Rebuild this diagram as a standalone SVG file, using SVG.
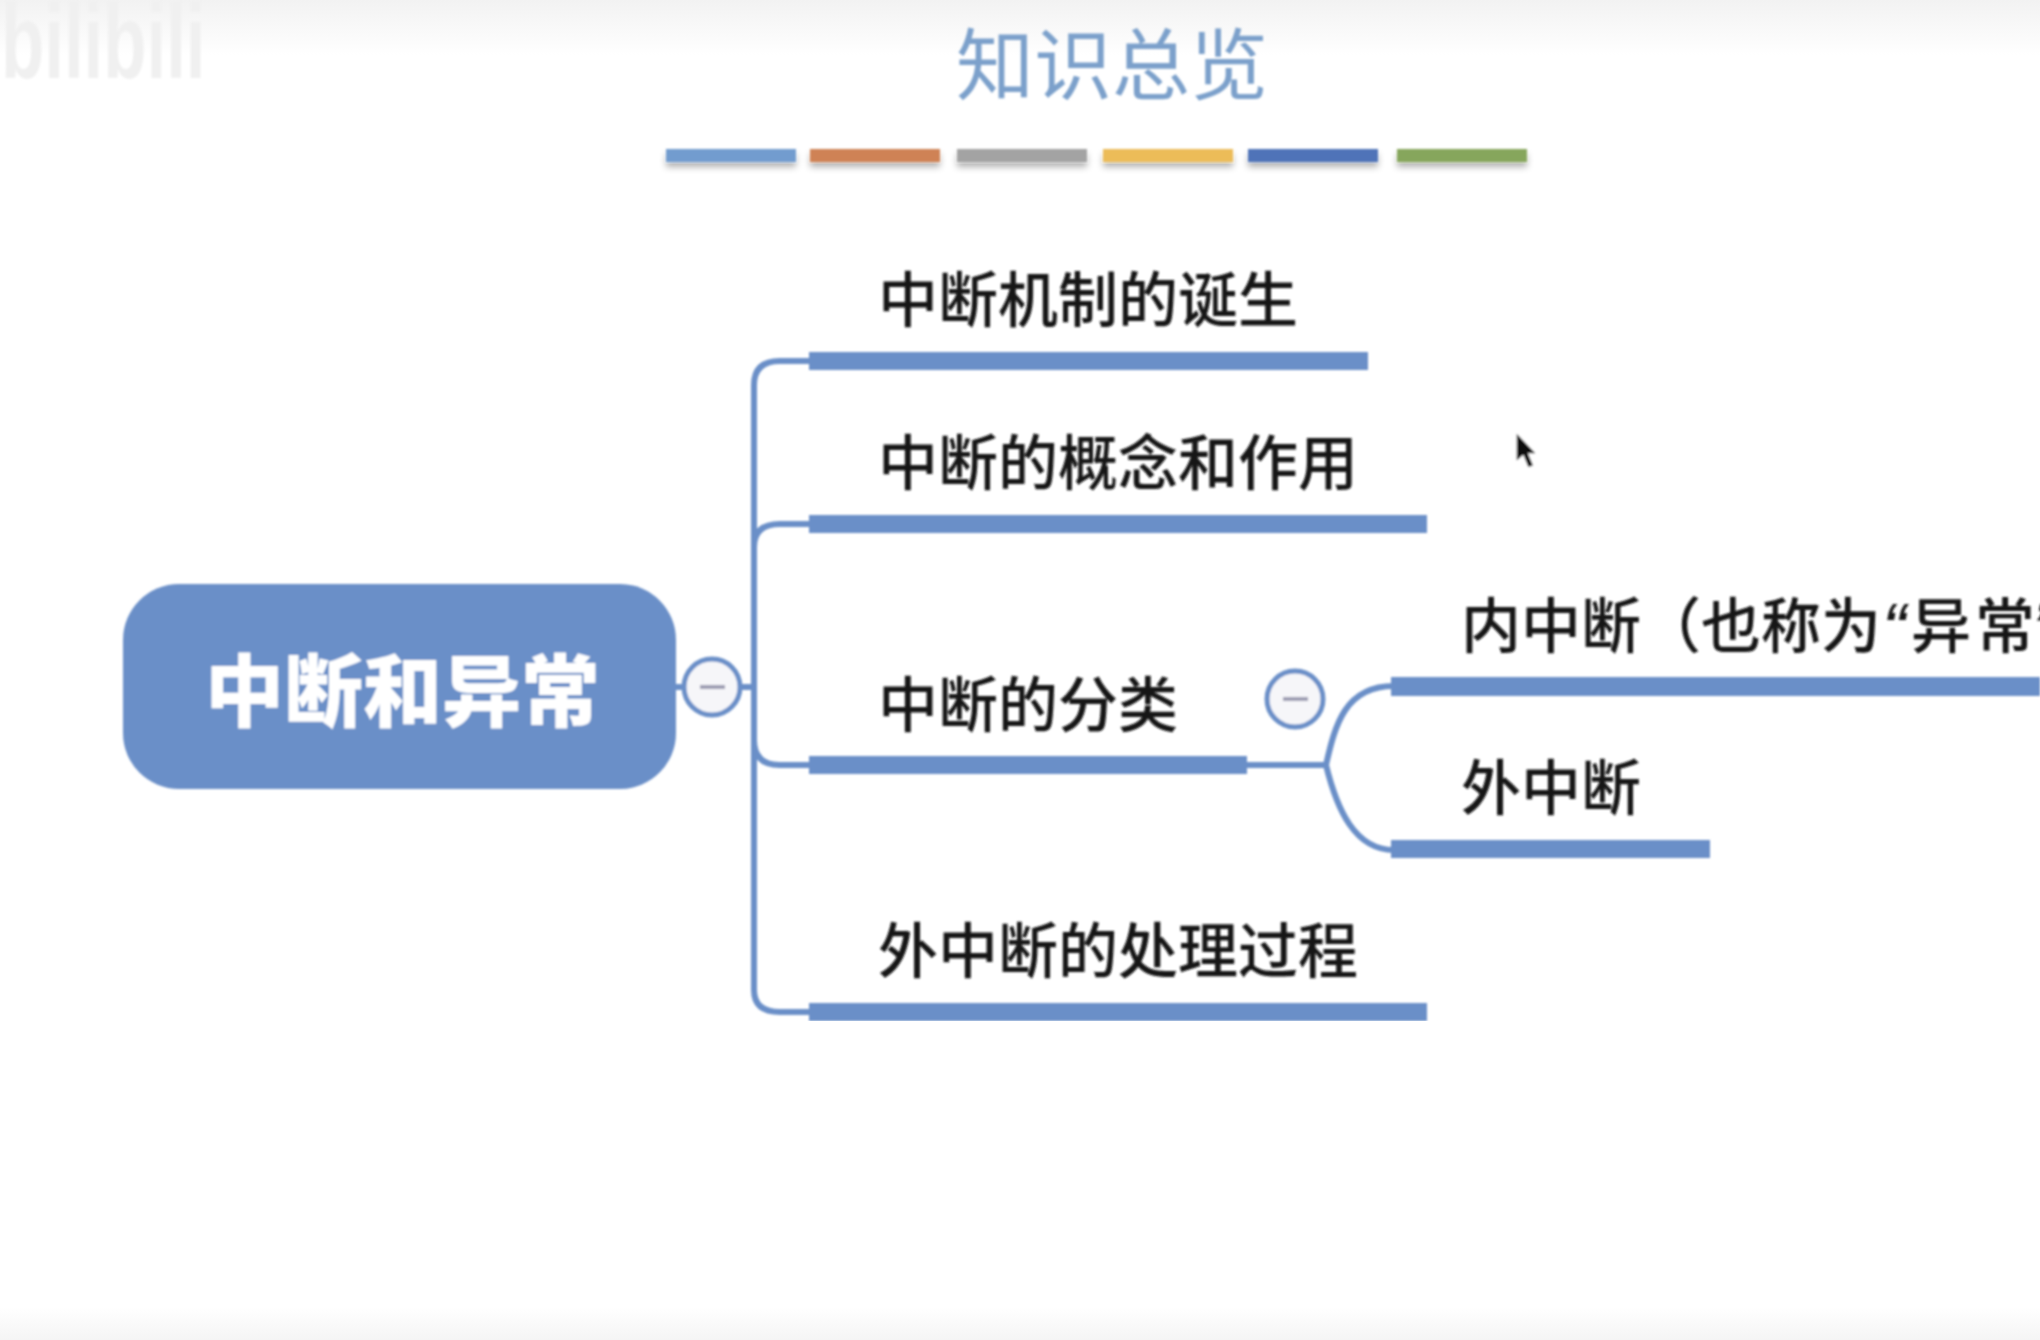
<svg xmlns="http://www.w3.org/2000/svg" width="2040" height="1340" viewBox="0 0 2040 1340">
<style>
.t{font-family:"Noto Sans CJK SC","Liberation Sans",sans-serif;font-size:60px;font-weight:500;fill:#141414}
.q{font-family:"Liberation Sans",sans-serif;font-style:italic;font-size:72px}
.bar{fill:#6a8fc8}
.c{fill:none;stroke:#6a8fc8;stroke-width:6}
.btn{fill:#f6f6f9;stroke:#6a8fc8;stroke-width:5}
.minus{stroke:#9d9db2;stroke-width:4}
</style>
<defs>
<linearGradient id="top" x1="0" y1="0" x2="0" y2="1"><stop offset="0" stop-color="#f2f2f2"/><stop offset="1" stop-color="#fff"/></linearGradient>
<linearGradient id="bot" x1="0" y1="0" x2="0" y2="1"><stop offset="0" stop-color="#fff"/><stop offset="1" stop-color="#f5f5f5"/></linearGradient>
<filter id="sh" x="-5%" y="-50%" width="110%" height="250%"><feDropShadow dx="0" dy="5" stdDeviation="3" flood-color="#000" flood-opacity="0.3"/></filter>
<filter id="soft" x="0" y="0" width="100%" height="100%"><feGaussianBlur stdDeviation="0.8"/></filter>
</defs>
<rect width="2040" height="1340" fill="#fff"/>
<rect width="2040" height="55" fill="url(#top)"/>
<rect y="1307" width="2040" height="33" fill="url(#bot)"/>
<g filter="url(#soft)">
<text id="watermark" transform="translate(1 78) scale(1.18 1.75)" font-family="Liberation Sans,sans-serif" font-weight="700" font-size="60" fill="#f0f0f0">bilibili</text>
<text id="title" x="956" y="94" font-family="Noto Sans CJK SC,sans-serif" font-weight="400" font-size="78" fill="#7ba0cb">知识总览</text>
<g id="bars" filter="url(#sh)">
<rect x="666" y="149" width="130" height="13" fill="#729ccf"/>
<rect x="810" y="149" width="130" height="13" fill="#cf8254"/>
<rect x="957" y="149" width="130" height="13" fill="#a3a3a3"/>
<rect x="1103" y="149" width="130" height="13" fill="#ecbc59"/>
<rect x="1248" y="149" width="130" height="13" fill="#5073b8"/>
<rect x="1397" y="149" width="130" height="13" fill="#86a65c"/>
</g>
<g id="connectors">
<path class="c" d="M676 687H754M754 385V990Q754 1012 780 1012H812M754 385Q754 361 780 361H812M754 547Q754 524 780 524H812M754 740Q754 765 780 765H812M1247 765H1326"/>
<path class="c" d="M1326 765C1335 725 1345 686 1394 686M1326 765C1337 810 1355 850 1394 850"/>
</g>
<g id="root"><rect x="123" y="584" width="553" height="205" rx="56" class="bar"/>
<text x="205" y="721" font-family="Noto Sans CJK SC,sans-serif" font-weight="900" font-size="79" fill="#fff">中断和异常</text></g>
<g id="toggle1"><circle cx="712" cy="687" r="28" class="btn"/><path class="minus" d="M700 687H725"/></g>
<g id="n1"><rect x="809" y="352" width="559" height="18" class="bar"/><text class="t" x="878" y="322">中断机制的诞生</text></g>
<g id="n2"><rect x="809" y="515" width="618" height="18" class="bar"/><text class="t" x="878" y="485">中断的概念和作用</text></g>
<g id="n3"><rect x="809" y="756" width="438" height="18" class="bar"/><text class="t" x="878" y="727">中断的分类</text></g>
<g id="n4"><rect x="809" y="1003" width="618" height="18" class="bar"/><text class="t" x="878" y="973">外中断的处理过程</text></g>
<g id="toggle2"><circle cx="1295" cy="699" r="28" class="btn"/><path class="minus" d="M1283 699H1308"/></g>
<g id="n31"><rect x="1391" y="677" width="649" height="19" class="bar"/><text class="t" x="1461" y="648">内中断（也称为<tspan class="q" x="1882" y="654">“</tspan><tspan x="1911" y="648">异</tspan><tspan x="1975">常</tspan><tspan class="q" x="2032" y="654">”</tspan></text></g>
<g id="n32"><rect x="1391" y="840" width="319" height="18" class="bar"/><text class="t" x="1461" y="810">外中断</text></g>
<path id="cursor" d="M1516 432V462L1523 456L1528 468L1534 466L1529 454H1537Z" fill="#111" stroke="#fff" stroke-width="1.5"/>
</g>
</svg>
